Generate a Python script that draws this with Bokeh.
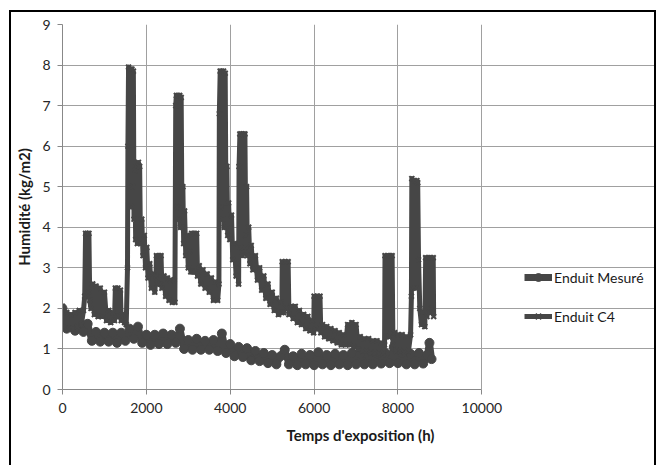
from bokeh.plotting import figure
from bokeh.models import Legend, LegendItem, FixedTicker, Range1d
from bokeh.embed import file_html
from bokeh.resources import INLINE

# Exposure time (h) and moisture content (kg/m2) of the rendering, measured
hours_mesure = [0, 100, 200, 300, 400, 500, 600, 700, 800, 900, 1000, 1100, 1200, 1300,
                1400, 1500, 1600, 1700, 1800, 1900, 2000, 2100, 2200, 2300, 2400, 2500,
                2600, 2700, 2800, 2900, 3000, 3100, 3200, 3300, 3400, 3500, 3600, 3700,
                3800, 3900, 4000, 4100, 4200, 4300, 4400, 4500, 4600, 4700, 4800, 4900,
                5000, 5100, 5200, 5300, 5400, 5500, 5600, 5700, 5800, 5900, 6000, 6100,
                6200, 6300, 6400, 6500, 6600, 6700, 6800, 6900, 7000, 7100, 7200, 7300,
                7400, 7500, 7600, 7700, 7800, 7900, 8000, 8100, 8200, 8300, 8400, 8500,
                8600, 8700, 8750, 8800]
humid_mesure = [2.0, 1.5, 1.7, 1.45, 1.7, 1.42, 1.62, 1.2, 1.42, 1.18, 1.4, 1.18, 1.4, 1.15,
                1.4, 1.2, 1.5, 1.25, 1.55, 1.15, 1.35, 1.1, 1.35, 1.12, 1.38, 1.12,
                1.35, 1.15, 1.5, 1.0, 1.22, 0.98, 1.25, 0.98, 1.2, 0.98, 1.22, 0.95,
                1.38, 0.9, 1.12, 0.82, 1.05, 0.8, 1.02, 0.72, 0.95, 0.7, 0.9, 0.65,
                0.85, 0.62, 0.82, 0.98, 0.62, 0.82, 0.6, 0.88, 0.62, 0.85, 0.6, 0.92,
                0.62, 0.85, 0.6, 0.88, 0.62, 0.85, 0.6, 0.9, 0.62, 0.88, 0.62, 0.85,
                0.62, 0.88, 0.64, 0.9, 0.65, 1.05, 0.65, 0.9, 0.62, 0.88, 0.62, 0.9,
                0.64, 0.85, 1.15, 0.75]

# Same rendering, simulated (C4)
hours_c4 = [0, 50, 100, 150, 200, 250, 300, 350, 400, 450, 500, 530,
            550, 570, 590, 610, 630, 650, 680, 720, 760, 800, 850, 900, 950, 1000,
            1050, 1100, 1150, 1200, 1240,
            1260, 1290, 1320, 1350, 1380, 1400, 1440, 1480, 1520, 1550,
            1560, 1575, 1595, 1615, 1635, 1655, 1675, 1690, 1705, 1725, 1745, 1765,
            1785, 1810, 1840, 1860, 1890, 1920, 1950, 1980, 2010, 2040, 2080, 2120,
            2160, 2200,
            2230, 2240, 2270, 2300, 2330, 2350, 2370, 2420, 2460, 2500, 2540, 2580,
            2620, 2660, 2680,
            2700, 2715, 2735, 2755, 2775, 2795, 2815, 2830, 2850, 2870, 2890, 2910,
            2940, 2970, 3000, 3040, 3060,
            3080, 3110, 3140, 3170, 3200, 3220, 3260, 3300, 3350, 3400, 3450, 3500,
            3550, 3600, 3650, 3700, 3730,
            3740, 3760, 3780, 3800, 3820, 3840, 3860, 3880, 3900, 3920, 3940, 3960,
            3990, 4030, 4060, 4100, 4140, 4180, 4200,
            4210, 4230, 4250, 4270, 4290, 4310, 4330, 4350, 4370, 4390, 4410, 4440,
            4470, 4500, 4540, 4600, 4650, 4700, 4750, 4800, 4850, 4900, 4950, 5000,
            5050, 5100, 5150, 5200, 5230,
            5240, 5270, 5310, 5345, 5380, 5400, 5450, 5500, 5550, 5600, 5650, 5700,
            5750, 5800, 5850, 5900, 5950, 5990,
            6000, 6040, 6080, 6110, 6140, 6160, 6200, 6250, 6300, 6350, 6400, 6450,
            6500, 6550, 6600, 6650, 6700, 6750, 6800, 6850, 6900, 6950, 7000, 7050,
            7100, 7150, 7200, 7250, 7300, 7350, 7400, 7450, 7500, 7550, 7600, 7650, 7680,
            7690, 7720, 7750, 7780, 7810, 7840, 7860, 7880, 7920, 7960, 8000, 8050,
            8100, 8150, 8200, 8250, 8300, 8320,
            8330, 8360, 8390, 8420, 8450, 8470, 8490, 8520, 8560, 8600, 8640, 8660,
            8690, 8720, 8750, 8780, 8810, 8840, 8850]
humid_c4 = [2.05, 1.55, 1.9, 1.5, 1.85, 1.5, 1.9, 1.55, 1.95, 1.6, 1.95, 2.3,
            3.85, 2.3, 3.85, 2.4, 3.85, 2.2, 2.0, 2.6, 1.85, 2.55, 1.8, 2.5, 1.8, 2.4,
            1.7, 1.95, 1.65, 1.9, 1.7,
            2.5, 1.8, 2.5, 1.8, 2.45, 1.7, 1.85, 1.65, 1.6, 3.0,
            6.0, 7.95, 5.0, 7.9, 4.5, 7.9, 5.0, 7.85, 4.2, 5.4, 3.7, 5.5,
            3.6, 5.6, 5.5, 3.6, 4.2, 3.3, 3.8, 3.0, 3.5, 2.75, 3.1, 2.5,
            2.85, 2.4,
            2.8, 3.3, 2.6, 3.3, 2.6, 3.3, 2.5, 2.8, 2.3, 2.75, 2.2, 2.7,
            2.15, 2.7, 2.15,
            7.0, 7.25, 4.5, 7.25, 4.2, 7.25, 4.0, 7.2, 4.0, 5.0, 3.6, 4.4,
            3.3, 3.8, 3.0, 3.4, 2.9,
            3.85, 2.9, 3.85, 2.9, 3.85, 2.8, 3.05, 2.6, 2.95, 2.5, 2.85, 2.4,
            2.75, 2.2, 2.65, 2.2, 2.6,
            6.8, 7.85, 4.5, 7.85, 4.2, 7.85, 4.0, 7.8, 4.0, 5.5, 3.8, 4.6,
            3.7, 4.3, 3.2, 3.6, 2.8, 3.1, 2.6,
            5.5, 6.3, 3.5, 6.3, 3.3, 6.3, 3.5, 6.3, 3.8, 5.0, 3.3, 4.0,
            3.1, 3.55, 2.95, 3.3, 2.7, 3.0, 2.45, 2.8, 2.25, 2.6, 2.1, 2.4,
            1.95, 2.25, 1.85, 2.15, 1.9,
            3.15, 1.9, 3.15, 2.0, 3.15, 1.85, 2.05, 1.75, 2.05, 1.65, 1.95, 1.6,
            1.85, 1.5, 1.8, 1.45, 1.7, 1.4,
            2.3, 1.5, 2.3, 1.5, 2.3, 1.4, 1.6, 1.3, 1.55, 1.25, 1.5, 1.2,
            1.45, 1.15, 1.4, 1.1, 1.35, 1.1, 1.6, 1.1, 1.65, 1.05, 1.6, 1.0,
            1.3, 0.95, 1.25, 0.95, 1.25, 0.9, 1.2, 0.9, 1.2, 0.88, 1.15, 0.9, 1.1,
            3.3, 1.3, 3.3, 1.3, 3.3, 1.4, 3.3, 1.1, 1.4, 0.95, 1.35, 0.95,
            1.35, 0.92, 1.3, 0.95, 1.35, 2.3,
            5.2, 2.5, 5.15, 2.5, 5.15, 5.1, 3.2, 2.0, 1.6, 1.9, 1.55, 3.25,
            1.8, 3.25, 1.9, 3.25, 2.0, 3.25, 1.8]

x_ticks = [0, 2000, 4000, 6000, 8000, 10000]
y_ticks = [0, 1, 2, 3, 4, 5, 6, 7, 8, 9]
x_max, y_max = 10000, 9

series_color = "#464646"
axis_color = "#888888"
font = "Lato"

# The plotting frame runs on to the right border so that the legend can sit
# beside the axes; grid lines and the x axis stop at x_max.
p = figure(width=647, height=455, output_backend="svg", toolbar_location=None,
           x_range=Range1d(0, 14212), y_range=Range1d(0, y_max),
           min_border_left=51, min_border_right=0, min_border_top=12,
           min_border_bottom=78, background_fill_color="white",
           border_fill_color="white")
p.outline_line_color = None
p.styles = {"margin-left": "9px", "margin-top": "10px",
            "border-left": "2px solid black", "border-top": "2px solid black",
            "border-right": "2px solid black"}

p.xaxis.ticker = FixedTicker(ticks=x_ticks)
p.yaxis.ticker = FixedTicker(ticks=y_ticks)
p.xgrid.ticker = FixedTicker(ticks=x_ticks)
p.ygrid.ticker = FixedTicker(ticks=y_ticks)
p.xaxis.bounds = (0, x_max)
p.ygrid.bounds = (0, x_max)
p.xgrid.bounds = (0, y_max)
for g in (p.xgrid, p.ygrid):
    g.grid_line_color = "#a0a0a0"
    g.grid_line_width = 1

for ax in (p.xaxis, p.yaxis):
    ax.axis_line_color = axis_color
    ax.major_tick_line_color = axis_color
    ax.major_tick_out = 5
    ax.major_tick_in = 0
    ax.minor_tick_line_color = None
    ax.major_label_text_font = font
    ax.major_label_text_font_size = "14px"
    ax.major_label_text_color = "#262626"
    ax.axis_label_text_font = font
    ax.axis_label_text_font_style = "bold"
    ax.axis_label_text_font_size = "15px"
    ax.axis_label_text_color = "#1a1a1a"

p.xaxis.axis_label = "Temps d'exposition (h)"
p.yaxis.axis_label = "Humidité (kg/m2)"
p.xaxis.major_label_standoff = 8
p.xaxis.axis_label_standoff = 10
p.yaxis.major_label_standoff = 7
p.yaxis.axis_label_standoff = 6

# series
l1 = p.line(hours_mesure, humid_mesure, line_color=series_color, line_width=7,
            line_join="round")
s1 = p.scatter(hours_mesure, humid_mesure, marker="circle", size=9,
               fill_color=series_color, line_color=series_color)
l2 = p.line(hours_c4, humid_c4, line_color=series_color, line_width=5, line_join="round")
s2 = p.scatter(hours_c4, humid_c4, marker="x", size=7, line_color=series_color,
               line_width=2)

legend = Legend(items=[LegendItem(label="Enduit Mesuré", renderers=[l1, s1]),
                       LegendItem(label="Enduit C4", renderers=[l2, s2])],
                location=(462, 63), orientation="vertical",
                border_line_color=None, background_fill_alpha=0,
                label_text_font=font, label_text_font_size="14px",
                label_text_color="#1a1a1a", glyph_width=28, glyph_height=20,
                label_height=20, spacing=19, padding=0, margin=0, label_standoff=2)
p.add_layout(legend)

open("out.html", "w").write(file_html(p, INLINE))
